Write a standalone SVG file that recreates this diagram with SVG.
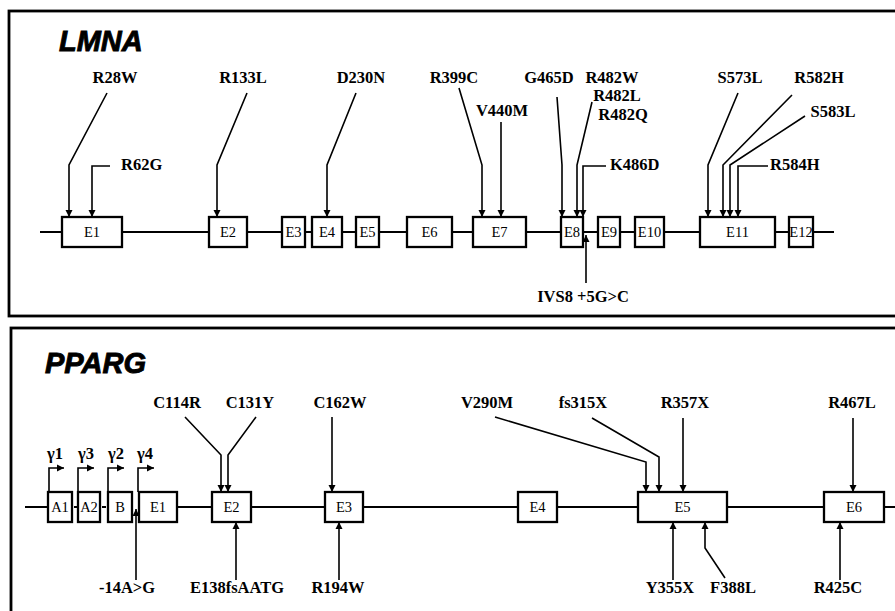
<svg xmlns="http://www.w3.org/2000/svg" width="895" height="611" viewBox="0 0 895 611">
<style>
.panel{fill:none;stroke:#000;stroke-width:2.8}
.bb{fill:none;stroke:#000;stroke-width:2}
.ex{fill:#fff;stroke:#000;stroke-width:2.3}
.exl{font-family:"Liberation Serif",serif;font-size:14.5px;text-anchor:middle;fill:#000}
.lab{font-family:"Liberation Serif",serif;font-size:16.5px;font-weight:bold;fill:#000}
.mid{text-anchor:middle}
.title{font-family:"Liberation Sans",Arial,sans-serif;font-size:29px;font-weight:bold;font-style:italic;fill:#000;stroke:#000;stroke-width:0.9}
.cn{fill:none;stroke:#000;stroke-width:1.6;marker-end:url(#ah)}
</style>
<defs>
<marker id="ah" markerUnits="userSpaceOnUse" markerWidth="8" markerHeight="8" refX="7" refY="4" orient="auto">
<path d="M0,0.5 L7,4 L0,7.5 Z" fill="#000"/>
</marker>
</defs>
<rect width="895" height="611" fill="#fff"/>
<!-- panels -->
<rect class="panel" x="9" y="11" width="900" height="305"/>
<rect class="panel" x="11" y="328" width="900" height="300"/>
<text class="title" x="59" y="51">LMNA</text>
<text class="title" x="45" y="373">PPARG</text>
<!-- backbones -->
<path class="bb" d="M40,232 L834,232"/>
<path class="bb" d="M25,507 L48,507 M74,507 L77,507 M102,507 L106,507 M177,507 L895,507"/>
<!-- LMNA exons -->
<g id="lmna-E1"><rect class="ex" x="62" y="217" width="60" height="30"/><text class="exl" x="92" y="237">E1</text></g>
<g id="lmna-E2"><rect class="ex" x="209" y="217" width="38" height="30"/><text class="exl" x="228" y="237">E2</text></g>
<g id="lmna-E3"><rect class="ex" x="282" y="217" width="23" height="30"/><text class="exl" x="293.5" y="237">E3</text></g>
<g id="lmna-E4"><rect class="ex" x="312" y="217" width="30" height="30"/><text class="exl" x="327" y="237">E4</text></g>
<g id="lmna-E5"><rect class="ex" x="356" y="217" width="23" height="30"/><text class="exl" x="367.5" y="237">E5</text></g>
<g id="lmna-E6"><rect class="ex" x="407" y="217" width="45" height="30"/><text class="exl" x="429.5" y="237">E6</text></g>
<g id="lmna-E7"><rect class="ex" x="473" y="217" width="53" height="30"/><text class="exl" x="499.5" y="237">E7</text></g>
<g id="lmna-E8"><rect class="ex" x="561" y="217" width="22" height="30"/><text class="exl" x="572" y="237">E8</text></g>
<g id="lmna-E9"><rect class="ex" x="598" y="217" width="22" height="30"/><text class="exl" x="609" y="237">E9</text></g>
<g id="lmna-E10"><rect class="ex" x="635" y="217" width="29" height="30"/><text class="exl" x="649.5" y="237">E10</text></g>
<g id="lmna-E11"><rect class="ex" x="700" y="217" width="75" height="30"/><text class="exl" x="737.5" y="237">E11</text></g>
<g id="lmna-E12"><rect class="ex" x="789" y="217" width="24" height="30"/><text class="exl" x="801" y="237">E12</text></g>
<!-- PPARG exons -->
<g id="pparg-A1"><rect class="ex" x="48" y="492" width="24" height="30"/><text class="exl" x="60" y="512">A1</text></g>
<g id="pparg-A2"><rect class="ex" x="78" y="492" width="22" height="30"/><text class="exl" x="89" y="512">A2</text></g>
<g id="pparg-B"><rect class="ex" x="108" y="492" width="24" height="30"/><text class="exl" x="120" y="512">B</text></g>
<g id="pparg-E1"><rect class="ex" x="139" y="492" width="38" height="30"/><text class="exl" x="158" y="512">E1</text></g>
<g id="pparg-E2"><rect class="ex" x="212" y="492" width="39" height="30"/><text class="exl" x="231.5" y="512">E2</text></g>
<g id="pparg-E3"><rect class="ex" x="325" y="492" width="38" height="30"/><text class="exl" x="344" y="512">E3</text></g>
<g id="pparg-E4"><rect class="ex" x="518" y="492" width="39" height="30"/><text class="exl" x="537.5" y="512">E4</text></g>
<g id="pparg-E5"><rect class="ex" x="638" y="492" width="89" height="30"/><text class="exl" x="682.5" y="512">E5</text></g>
<g id="pparg-E6"><rect class="ex" x="824" y="492" width="60" height="30"/><text class="exl" x="854" y="512">E6</text></g>
<!-- connectors -->
<g id="connectors">
<path class="cn" d="M107,93 L69,165 L69,217"/>
<path class="cn" d="M110,166 L92,166 L92,217"/>
<path class="cn" d="M247,93 L217,165 L217,217"/>
<path class="cn" d="M356,93 L327,165 L327,217"/>
<path class="cn" d="M459,88 L482,165 L482,217"/>
<path class="cn" d="M501,122 L501,217"/>
<path class="cn" d="M557,97 L562,165 L562,217"/>
<path class="cn" d="M592,102 L577,165 L577,217"/>
<path class="cn" d="M606,166 L583,166 L583,217"/>
<path class="cn" d="M586,283 L586,235"/>
<path class="cn" d="M738,93 L708,165 L708,217"/>
<path class="cn" d="M792,95 L723,165 L723,217"/>
<path class="cn" d="M805,116 L730,165 L730,217"/>
<path class="cn" d="M768,166 L738,166 L738,217"/>
<path class="cn" d="M49,492 L49,468 L64,468"/>
<path class="cn" d="M78,492 L78,468 L94,468"/>
<path class="cn" d="M108,492 L108,468 L124,468"/>
<path class="cn" d="M138,492 L138,468 L154,468"/>
<path class="cn" d="M136,580 L136,509"/>
<path class="cn" d="M185,417 L221,455 L221,492"/>
<path class="cn" d="M256,417 L228,455 L228,492"/>
<path class="cn" d="M332,417 L332,492"/>
<path class="cn" d="M236,580 L236,522"/>
<path class="cn" d="M339,580 L339,522"/>
<path class="cn" d="M495,417 L646,462 L646,492"/>
<path class="cn" d="M592,418 L659,457 L659,492"/>
<path class="cn" d="M683,418 L683,492"/>
<path class="cn" d="M853,418 L853,492"/>
<path class="cn" d="M673,580 L673,522"/>
<path class="cn" d="M725,578 L705,548 L705,522"/>
<path class="cn" d="M840,580 L840,522"/>
</g>
<!-- LMNA labels -->
<g id="lmna-labels">
<text class="lab mid" x="115" y="83">R28W</text>
<text class="lab" x="121" y="170">R62G</text>
<text class="lab mid" x="243" y="83">R133L</text>
<text class="lab mid" x="361" y="83">D230N</text>
<text class="lab mid" x="454" y="83">R399C</text>
<text class="lab mid" x="502" y="116">V440M</text>
<text class="lab mid" x="549" y="83">G465D</text>
<text class="lab mid" x="612" y="83">R482W</text>
<text class="lab mid" x="617" y="101">R482L</text>
<text class="lab mid" x="623" y="120">R482Q</text>
<text class="lab" x="610" y="170">K486D</text>
<text class="lab mid" x="583" y="302">IVS8 +5G&gt;C</text>
<text class="lab mid" x="740" y="83">S573L</text>
<text class="lab mid" x="819" y="83">R582H</text>
<text class="lab mid" x="833" y="117">S583L</text>
<text class="lab" x="770" y="170">R584H</text>
</g>
<!-- PPARG labels -->
<g id="pparg-labels">
<text class="lab" x="47" y="459">γ1</text>
<text class="lab" x="78" y="459">γ3</text>
<text class="lab" x="108" y="459">γ2</text>
<text class="lab" x="137" y="459">γ4</text>
<text class="lab mid" x="177" y="408">C114R</text>
<text class="lab mid" x="250" y="408">C131Y</text>
<text class="lab mid" x="340" y="408">C162W</text>
<text class="lab mid" x="487" y="408">V290M</text>
<text class="lab mid" x="583" y="408">fs315X</text>
<text class="lab mid" x="685" y="408">R357X</text>
<text class="lab mid" x="852" y="408">R467L</text>
<text class="lab mid" x="127" y="593">-14A&gt;G</text>
<text class="lab mid" x="237" y="593">E138fsAATG</text>
<text class="lab mid" x="338" y="593">R194W</text>
<text class="lab mid" x="670" y="593">Y355X</text>
<text class="lab mid" x="733" y="593">F388L</text>
<text class="lab mid" x="838" y="593">R425C</text>
</g>
</svg>
